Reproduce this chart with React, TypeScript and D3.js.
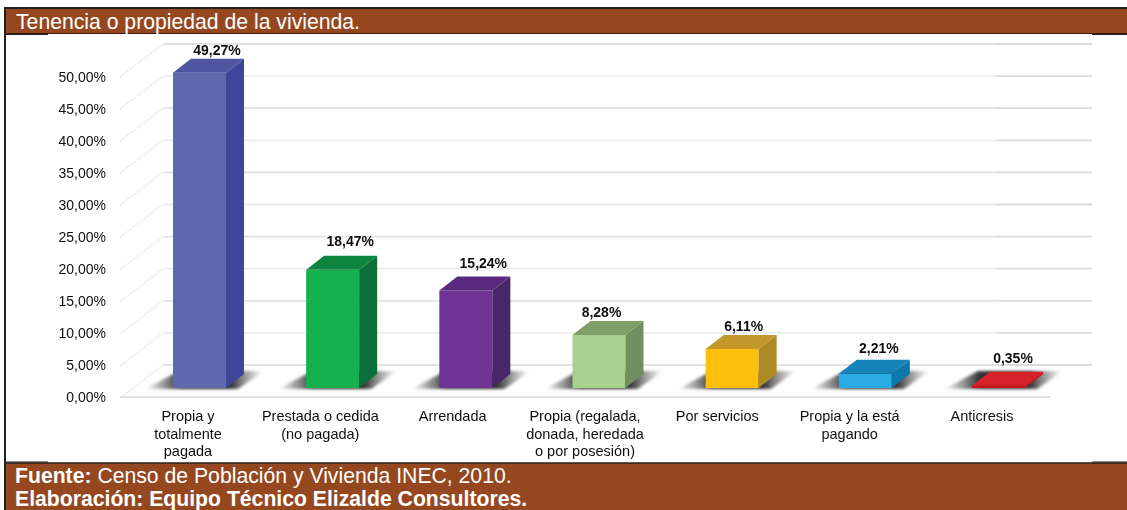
import React from "react";
import * as d3 from "d3";

const categories = [
  ["Propia y", "totalmente", "pagada"],
  ["Prestada o cedida", "(no pagada)"],
  ["Arrendada"],
  ["Propia (regalada,", "donada, heredada", "o por posesión)"],
  ["Por servicios"],
  ["Propia y la está", "pagando"],
  ["Anticresis"],
];
const values = [49.27, 18.47, 15.24, 8.28, 6.11, 2.21, 0.35];
const valueLabels = ["49,27%", "18,47%", "15,24%", "8,28%", "6,11%", "2,21%", "0,35%"];
const frontColors = ["#6068ae", "#15b150", "#6f3694", "#a9d18e", "#ffc010", "#29abe2", "#c9181f"];
const sideColors = ["#40449a", "#07703a", "#4a2568", "#6f8f5e", "#ae8a25", "#0f76aa", "#c9181f"];
const topColors = ["#50549f", "#0b8440", "#5a2c80", "#7f9f68", "#c3982c", "#1384bb", "#d6232a"];
const ticks = d3.range(0, 51, 5);
const titleText = "Tenencia o propiedad de la vivienda.";
const sourceBold = "Fuente:";
const sourceText = " Censo de Población y Vivienda INEC, 2010.";
const creditText = "Elaboración: Equipo Técnico Elizalde Consultores.";

const W = 1127, H = 510;
const brown = "#954820";
const font = "Liberation Sans, Arial, sans-serif";
// nudges of the value labels relative to their bar, as seen in the reference
const labelNudgeX = [0, 0, 0, -15, -6, -4, -3];
const labelNudgeY = [0, -6, -4, 0, 0, -3, -5];

export default function App() {
  const yFront = d3.scaleLinear().domain([0, 50]).range([388, 68]);
  const yBack = d3.scaleLinear().domain([0, 50]).range([365, 44]);
  const xBar = d3.scalePoint<number>().domain(d3.range(7)).range([173, 972]);
  const xCat = d3.scalePoint<number>().domain(d3.range(7)).range([188, 982]);
  const bw = 53, dx = 18, dy = 14;

  return (
    <svg width={W} height={H} style={{ position: "absolute", left: 0, top: 0, background: "#fff" }} fontFamily={font}>
      <defs>
        <filter id="soft" x="-10%" y="-10%" width="120%" height="120%"><feGaussianBlur stdDeviation="0.55" /></filter>
        <filter id="soft2" x="-10%" y="-10%" width="120%" height="120%"><feGaussianBlur stdDeviation="0.3" /></filter>
        <filter id="shadowBlur" x="-20%" y="-50%" width="140%" height="200%"><feGaussianBlur stdDeviation="1.4" /></filter>
        <linearGradient id="shadow" x1="0" x2="1" y1="0" y2="0">
          <stop offset="0" stopColor="#444" stopOpacity="0" />
          <stop offset="0.3" stopColor="#333" stopOpacity="1" />
          <stop offset="0.72" stopColor="#333" stopOpacity="1" />
          <stop offset="1" stopColor="#666" stopOpacity="0" />
        </linearGradient>
      </defs>

      {/* gridlines */}
      <g filter="url(#soft)">
        {ticks.map((t) => (
          <g key={t}>
            <line x1={163} x2={996} y1={yBack(t)} y2={yBack(t)} stroke={t % 10 === 5 ? "#ececec" : "#e2e2e2"} strokeWidth={1.8} />
            <line x1={996} x2={1092} y1={yBack(t)} y2={yBack(t)} stroke="#dcdcdc" strokeWidth={1.8} />
            <line x1={120} x2={163} y1={yBack(t) + 33} y2={yBack(t)} stroke="#d8d8d8" strokeWidth={1} strokeDasharray="2 1" />
          </g>
        ))}
        <line x1={120} x2={1050} y1={397} y2={397} stroke="#e0e0e0" strokeWidth={1.8} />
      </g>

      {/* bars */}
      {values.map((v, i) => {
        const x0 = xBar(i)!, y0 = yFront(0), y1 = yFront(v);
        const x1 = x0 + bw;
        return (
          <g key={i}>
            <path d={`M${x0 - 28},${y0 + 1} L${x1 + 12},${y0 + 1} L${x1 + 38},${y0 - 17} L${x0 + 6},${y0 - 17} Z`} fill="url(#shadow)" filter="url(#shadowBlur)" />
            <g filter="url(#soft2)">
              <rect x={x0} y={y1} width={bw} height={y0 - y1} fill={frontColors[i]} />
              <path d={`M${x1},${y1} L${x1 + dx},${y1 - dy} L${x1 + dx},${y0 - dy} L${x1},${y0} Z`} fill={sideColors[i]} />
              <path d={`M${x0},${y1} L${x0 + dx},${y1 - dy} L${x1 + dx},${y1 - dy} L${x1},${y1} Z`} fill={topColors[i]} />
            </g>
          </g>
        );
      })}

      {/* value labels */}
      <g filter="url(#soft)" fontSize={14} fontWeight={700} fill="#111" textAnchor="middle">
        {values.map((v, i) => (
          <text key={i} x={xBar(i)! + 44 + labelNudgeX[i]} y={yFront(v) - 18 + labelNudgeY[i]}>{valueLabels[i]}</text>
        ))}
      </g>

      {/* axis labels */}
      <g filter="url(#soft)" fontSize={14} fill="#111" textAnchor="end">
        {ticks.map((t) => (
          <text key={t} x={106} y={yFront(t) + 14}>{`${t},00%`}</text>
        ))}
      </g>

      {/* category labels */}
      <g filter="url(#soft)" fontSize={14.5} fill="#111" textAnchor="middle">
        {categories.map((lines, i) => (
          <text key={i}>
            {lines.map((l, j) => (
              <tspan key={j} x={xCat(i)!} y={421 + j * 17.5}>{l}</tspan>
            ))}
          </text>
        ))}
      </g>

      {/* title band */}
      <rect x={6} y={8} width={1121} height={25.5} fill={brown} />
      <line x1={5} x2={1127} y1={8} y2={8} stroke="#222" strokeWidth={2} />
      <line x1={6} x2={1127} y1={33.5} y2={33.5} stroke="#3a1c0c" strokeWidth={1} />
      <line x1={5} x2={48} y1={34.5} y2={34.5} stroke="#222" strokeWidth={1} />
      <line x1={1092} x2={1127} y1={34.5} y2={34.5} stroke="#222" strokeWidth={1} />
      <text x={16} y={29} fontSize={21.2} fill="#fff">{titleText}</text>

      {/* frame left */}
      <line x1={5} x2={5} y1={7} y2={510} stroke="#222" strokeWidth={2} />

      {/* footer band */}
      <rect x={6} y={463} width={1121} height={47} fill={brown} />
      <line x1={5} x2={1127} y1={463} y2={463} stroke="#222" strokeWidth={1.4} />
      <line x1={5} x2={48} y1={462} y2={462} stroke="#222" strokeWidth={1} />
      <line x1={1092} x2={1127} y1={462} y2={462} stroke="#222" strokeWidth={1} />
      <text x={15} y={483} fontSize={21.2} fill="#fff">
        <tspan fontWeight={700}>{sourceBold}</tspan>
        <tspan>{sourceText}</tspan>
      </text>
      <text x={15} y={506} fontSize={21.2} fontWeight={700} fill="#fff">{creditText}</text>
    </svg>
  );
}
